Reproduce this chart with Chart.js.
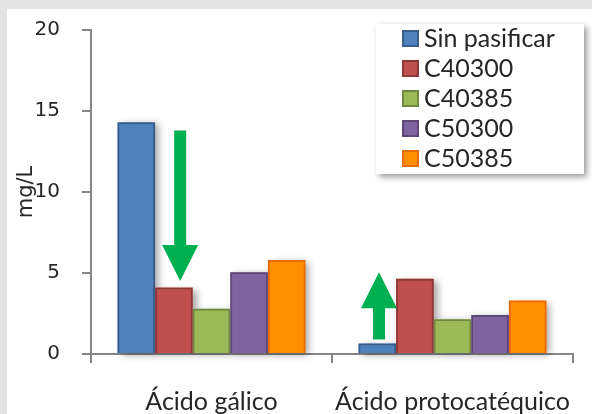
<!DOCTYPE html>
<html>
<head>
<meta charset="utf-8">
<script src="https://cdn.jsdelivr.net/npm/chart.js@4.4.0/dist/chart.umd.min.js"></script>
<style>
  html, body { margin: 0; padding: 0; background: #e4e4e4; }
  canvas { display: block; }
</style>
</head>
<body>
<canvas id="chart" width="592" height="414"></canvas>
<script>
// Data
const categories = ["Ácido gálico", "Ácido protocatéquico"];
const seriesNames = ["Sin pasificar", "C40300", "C40385", "C50300", "C50385"];
const sinPasificar = [14.3, 0.65];
const c40300 = [4.1, 4.65];
const c40385 = [2.8, 2.15];
const c50300 = [5.05, 2.4];
const c50385 = [5.8, 3.3];

// Green arrows: category, offset (in category widths), start value, tip value
const arrowCats = [0, 1];
const arrowOffsets = [-0.13, -0.305];
const arrowFrom = [13.8, 0.9];
const arrowTo = [4.5, 5.05];

const fills = ["#4F81BD", "#C0504D", "#9BBB59", "#8064A2", "#FF8F00"];
const borders = ["#385D8A", "#8C3836", "#71893F", "#5C4776", "#E36C09"];
const seriesValues = [sinPasificar, c40300, c40385, c50300, c50385];

const axisGray = "#868686";

// Page background: gray frame, white slide area
const bgPlugin = {
  id: "bg",
  beforeDraw(chart) {
    const ctx = chart.ctx;
    ctx.save();
    ctx.fillStyle = "#e3e3e3";
    ctx.fillRect(0, 0, chart.width, chart.height);
    ctx.fillStyle = "#ffffff";
    ctx.fillRect(7, 9, chart.width - 7, chart.height - 9);
    ctx.restore();
  }
};

// Soft shadow behind every bar, painted before the bars themselves
const shadowPlugin = {
  id: "barShadow",
  beforeDatasetsDraw(chart) {
    const ctx = chart.ctx;
    ctx.save();
    ctx.shadowColor = "rgba(0,0,0,0.35)";
    ctx.shadowBlur = 7;
    ctx.shadowOffsetX = 4;
    ctx.shadowOffsetY = 2;
    chart.data.datasets.forEach((ds, i) => {
      chart.getDatasetMeta(i).data.forEach(bar => {
        const p = bar.getProps(["x", "y", "base", "width"], true);
        ctx.fillStyle = ds.backgroundColor;
        ctx.fillRect(p.x - p.width / 2, p.y, p.width, p.base - p.y);
      });
    });
    ctx.restore();
  }
};

// Arrows
const arrowPlugin = {
  id: "arrows",
  afterDatasetsDraw(chart) {
    const ctx = chart.ctx;
    const xs = chart.scales.x, ys = chart.scales.y;
    const catW = (xs.right - xs.left) / categories.length;
    ctx.save();
    ctx.fillStyle = "#00B050";
    arrowCats.forEach((c, i) => {
      const x = xs.getPixelForValue(c) + arrowOffsets[i] * catW;
      const y1 = ys.getPixelForValue(arrowFrom[i]);
      const y2 = ys.getPixelForValue(arrowTo[i]);
      const dir = y2 > y1 ? 1 : -1;
      const shaft = 6, head = 18, headLen = 36;
      const yb = y2 - dir * headLen;
      ctx.beginPath();
      ctx.moveTo(x - shaft, y1);
      ctx.lineTo(x + shaft, y1);
      ctx.lineTo(x + shaft, yb);
      ctx.lineTo(x + head, yb);
      ctx.lineTo(x, y2);
      ctx.lineTo(x - head, yb);
      ctx.lineTo(x - shaft, yb);
      ctx.closePath();
      ctx.fill();
    });
    ctx.restore();
  }
};

// Legend box floating at top right
const legendPlugin = {
  id: "boxLegend",
  afterDraw(chart) {
    const ctx = chart.ctx;
    ctx.save();
    ctx.shadowColor = "rgba(0,0,0,0.4)";
    ctx.shadowBlur = 6;
    ctx.shadowOffsetX = 3;
    ctx.shadowOffsetY = 3;
    ctx.fillStyle = "#ffffff";
    ctx.fillRect(376, 24, 208, 150);
    ctx.restore();

    ctx.save();
    ctx.font = "25px Lato";
    ctx.textBaseline = "middle";
    chart.data.datasets.forEach((ds, i) => {
      const cy = 38 + i * 30;
      ctx.fillStyle = ds.backgroundColor;
      ctx.fillRect(402, cy - 8, 17, 17);
      ctx.strokeStyle = ds.borderColor;
      ctx.lineWidth = 2;
      ctx.strokeRect(403, cy - 7, 15, 15);
      ctx.fillStyle = "#262626";
      ctx.fillText(ds.label, 424, cy + 1);
    });
    ctx.restore();
  }
};

new Chart(document.getElementById("chart"), {
  type: "bar",
  data: {
    labels: categories,
    datasets: seriesNames.map((name, i) => ({
      label: name,
      data: seriesValues[i],
      backgroundColor: fills[i],
      borderColor: borders[i],
      borderWidth: 2,
      categoryPercentage: 0.78,
      barPercentage: 1
    }))
  },
  options: {
    responsive: false,
    animation: false,
    layout: { padding: { left: 0, top: 30, right: 19, bottom: 0 } },
    plugins: {
      legend: { display: false },
      tooltip: { enabled: false }
    },
    scales: {
      x: {
        afterFit(scale) {
          scale.height = 60;
          scale.paddingLeft = 0;
          scale.paddingRight = 0;
        },
        grid: {
          offset: true,
          drawOnChartArea: false,
          color: axisGray,
          lineWidth: 2,
          tickLength: 9
        },
        border: { color: axisGray, width: 2 },
        ticks: {
          font: { family: "Lato", size: 25 },
          color: "#262626",
          padding: 24
        }
      },
      y: {
        min: 0,
        max: 20,
        afterFit(scale) {
          scale.width = 91;
          scale.paddingTop = 0;
          scale.paddingBottom = 0;
        },
        grid: {
          drawOnChartArea: false,
          color: axisGray,
          lineWidth: 2,
          tickLength: 9
        },
        border: { color: axisGray, width: 2 },
        ticks: {
          stepSize: 5,
          font: { family: "DejaVu Sans", size: 20 },
          color: "#262626",
          padding: 22
        },
        title: {
          display: true,
          text: "mg/L",
          font: { family: "DejaVu Sans", size: 21 },
          color: "#262626",
          padding: { top: 14, bottom: 0 }
        }
      }
    }
  },
  plugins: [bgPlugin, shadowPlugin, arrowPlugin, legendPlugin]
});
</script>
</body>
</html>
